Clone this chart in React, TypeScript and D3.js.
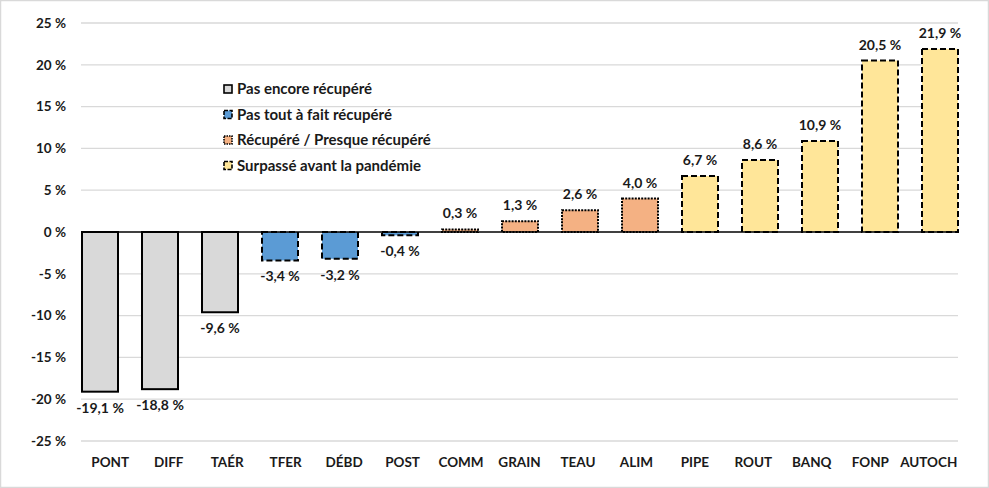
import React from "react";
import * as d3 from "d3";

const categories = ["PONT", "DIFF", "TAÉR", "TFER", "DÉBD", "POST", "COMM", "GRAIN", "TEAU", "ALIM", "PIPE", "ROUT", "BANQ", "FONP", "AUTOCH"];
const values = [-19.1, -18.8, -9.6, -3.4, -3.2, -0.4, 0.3, 1.3, 2.6, 4.0, 6.7, 8.6, 10.9, 20.5, 21.9];
const groups = [0, 0, 0, 1, 1, 1, 2, 2, 2, 2, 3, 3, 3, 3, 3];
const groupNames = ["Pas encore récupéré", "Pas tout à fait récupéré", "Récupéré / Presque récupéré", "Surpassé avant la pandémie"];
const yTicks = [-25, -20, -15, -10, -5, 0, 5, 10, 15, 20, 25];

const fills = ["#D9D9D9", "#5B9BD5", "#F4B183", "#FFE699"];
const dashes = ["none", "6,3", "2,1.2", "6,3"];

const W = 989, H = 488;
const FONT = "Lato, 'Open Sans', sans-serif";

export default function App() {
  const y = d3.scaleLinear().domain([-25, 25]).range([441, 23]);
  const xLab = d3.scaleBand().domain(categories).range([81, 958]);
  const xBar = d3.scaleBand().domain(categories).range([70, 970]).paddingInner(0.4).paddingOuter(0.2);
  const fmt = (v: number) => v.toFixed(1).replace(".", ",") + " %";

  return (
    <svg width={W} height={H} style={{ position: "absolute", left: 0, top: 0, background: "#fff" }} fontFamily={FONT}>
      <rect x={0.5} y={0.5} width={W - 1} height={H - 1} fill="#fff" stroke="#D9D9D9" strokeWidth={1.5} />
      {yTicks.map((t) => (
        <g key={t}>
          {t !== 0 && <line x1={81} x2={958} y1={y(t)} y2={y(t)} stroke="#D9D9D9" strokeWidth={1.3} />}
          <text x={66} y={y(t)} dy="0.35em" textAnchor="end" fontSize={13.5} fontWeight={700} fill="#1a1a1a">
            {t} %
          </text>
        </g>
      ))}
      {categories.map((c, i) => {
        const v = values[i];
        const g = groups[i];
        const x0 = xBar(c)!;
        const bw = xBar.bandwidth();
        const top = y(Math.max(0, v));
        const bot = y(Math.min(0, v));
        const cx = x0 + bw / 2;
        return (
          <g key={c}>
            <rect x={x0} y={top} width={bw} height={Math.max(bot - top, 0.5)} fill={fills[g]} stroke="#000" strokeWidth={2}
              strokeDasharray={dashes[g]} />
            <text x={cx} y={v >= 0 ? top - 11 : bot + 21} textAnchor="middle" fontSize={14} fontWeight={700} fill="#1a1a1a">
              {fmt(v)}
            </text>
            <text x={xLab(c)! + xLab.bandwidth() / 2} y={467} textAnchor="middle" fontSize={13.5} fontWeight={700} fill="#1a1a1a">
              {c}
            </text>
          </g>
        );
      })}
      <line x1={81} x2={958} y1={y(0)} y2={y(0)} stroke="#000" strokeWidth={1.5} />
      {groupNames.map((n, i) => {
        const cy = 89 + i * 25.5;
        return (
          <g key={n}>
            <rect x={224} y={cy - 4} width={8} height={8} fill={fills[i]} stroke="#000" strokeWidth={1.6}
              strokeDasharray={i === 0 ? "none" : i === 2 ? "1.5,1" : "4,1.5"} />
            <text x={237} y={cy} dy="0.35em" fontSize={15} fontWeight={700} fill="#1a1a1a">{n}</text>
          </g>
        );
      })}
    </svg>
  );
}
